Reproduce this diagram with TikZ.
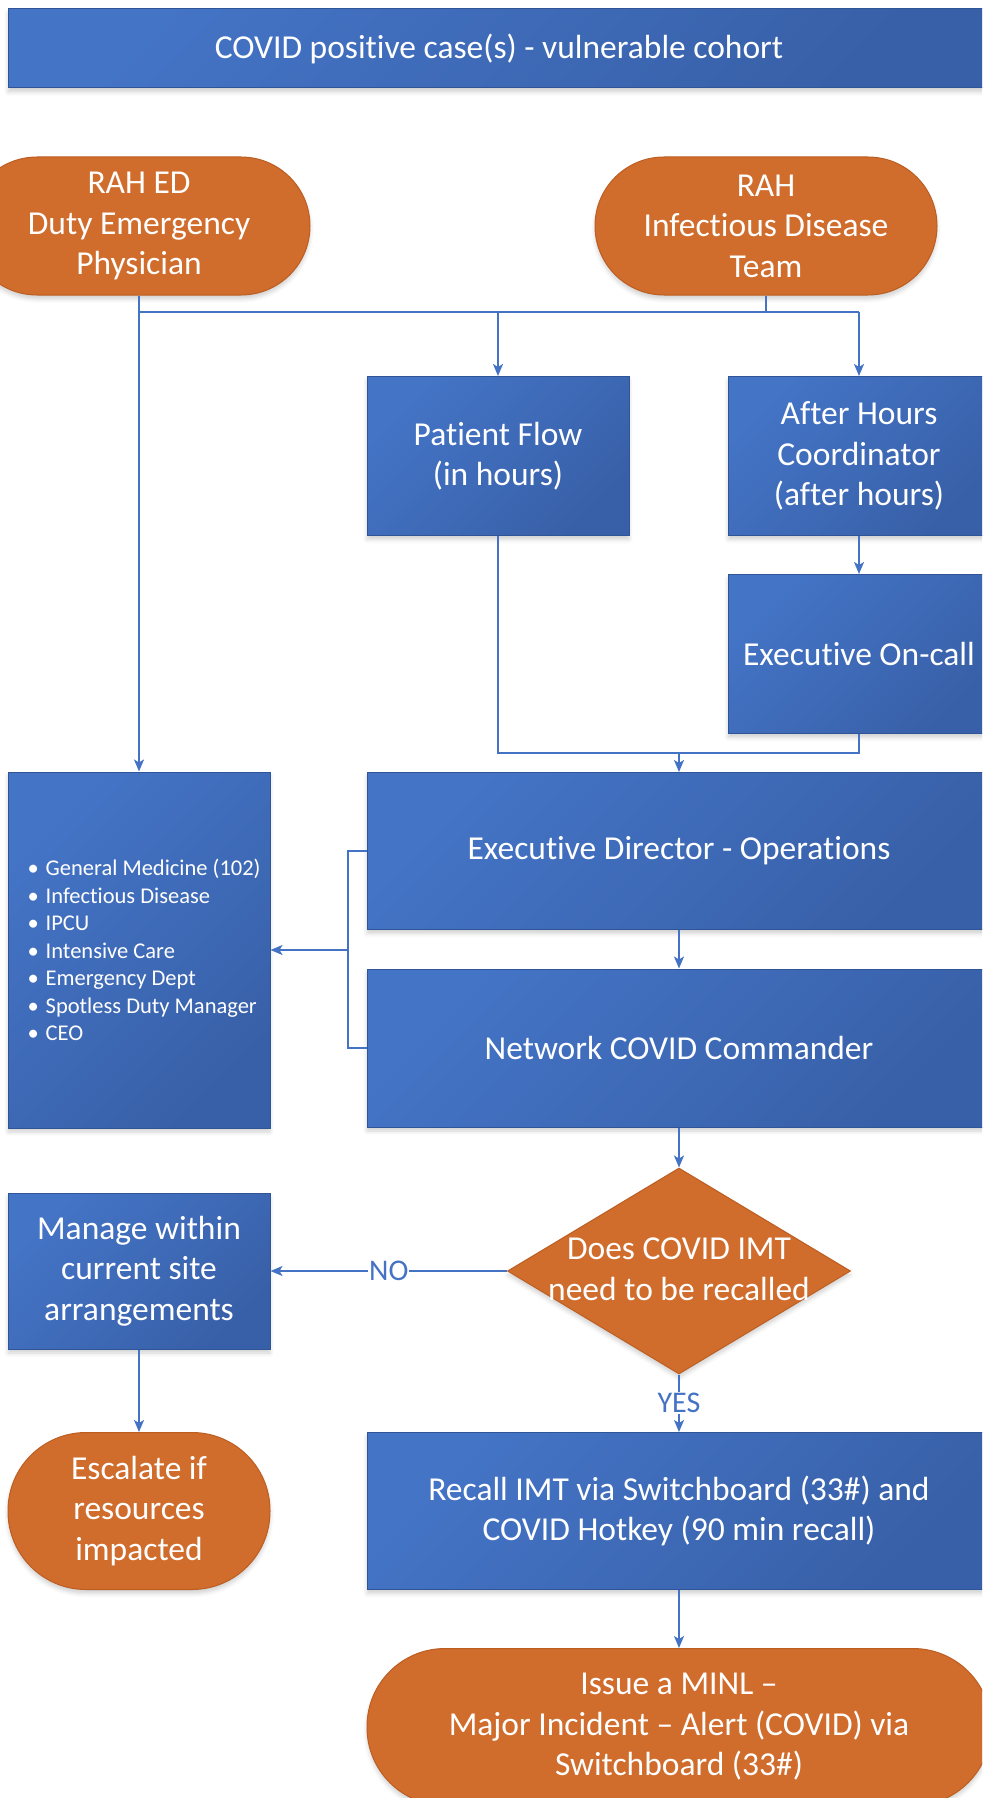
\documentclass[tikz,border=0pt]{standalone}
\usepackage{fontspec}
\setmainfont{Carlito}[Ligatures=NoCommon]
\usetikzlibrary{shapes.geometric,arrows.meta,shadows.blur}
\definecolor{blueL}{RGB}{68,116,198}
\definecolor{blueD}{RGB}{56,96,168}
\definecolor{blueE}{RGB}{47,85,151}
\definecolor{org}{RGB}{208,108,44}
\definecolor{orgE}{RGB}{188,94,34}
\definecolor{conn}{RGB}{68,114,196}
\begin{document}
\begin{tikzpicture}[x=1pt,y=-1pt,
  mainfont/.style={font=\fontsize{33.5}{40.5}\selectfont},
  shad/.style={blur shadow={shadow xshift=0pt,shadow yshift=-4pt,shadow blur radius=4pt,shadow opacity=18}},
  bbox/.style={rectangle,draw=blueE,line width=1pt,top color=blueL,bottom color=blueD,shading angle=45,
    text=white,align=center,mainfont,inner sep=0pt,shad},
  term/.style={rectangle,rounded corners=#1,draw=orgE,line width=1pt,fill=org,
    text=white,align=center,mainfont,inner sep=0pt,shad},
  line/.style={draw=conn,line width=1.8pt},
  arr/.style={line,-{Stealth[length=12pt,width=10pt,inset=3pt]}},
  lbl/.style={fill=white,text=conn,font=\fontsize{30}{36}\selectfont,inner sep=1pt}
]
\path[use as bounding box] (0,0) rectangle (982,1798);
\clip (0,0) rectangle (982,1798);

% title
\node[bbox,minimum width=982pt,minimum height=79pt] (title) at (499,48.5) {COVID positive case(s) - vulnerable cohort};

% sources
\node[term=69pt,minimum width=342pt,minimum height=138pt] (edp) at (139,226) {RAH ED\\Duty Emergency\\Physician};
\node[term=69pt,minimum width=342pt,minimum height=138pt] (idt) at (766,226) {RAH\\Infectious Disease\\Team};

% second row
\node[bbox,minimum width=262pt,minimum height=159pt] (pf) at (498,456) {Patient Flow\\(in hours)};
\node[bbox,minimum width=262pt,minimum height=159pt] (ahc) at (859,456) {After Hours\\Coordinator\\(after hours)};
\node[bbox,minimum width=262pt,minimum height=159pt] (eoc) at (859,654) {Executive On-call};

% middle
\node[bbox,minimum width=624pt,minimum height=157pt] (edo) at (679,851) {Executive Director - Operations};
\node[bbox,minimum width=624pt,minimum height=158pt] (ncc) at (679,1048) {Network COVID Commander};
\node[bbox,minimum width=262pt,minimum height=356pt] (lst) at (139,950) {};
\node[anchor=west,text=white,align=left,inner sep=0pt,font=\fontsize{22.5}{27.5}\selectfont] (lsttxt) at ([xshift=20pt]lst.west)
 {\makebox[18pt][l]{•}General Medicine (102)\\
  \makebox[18pt][l]{•}Infectious Disease\\
  \makebox[18pt][l]{•}IPCU\\
  \makebox[18pt][l]{•}Intensive Care\\
  \makebox[18pt][l]{•}Emergency Dept\\
  \makebox[18pt][l]{•}Spotless Duty Manager\\
  \makebox[18pt][l]{•}CEO};

% decision
\node[diamond,minimum width=343pt,minimum height=206pt,inner sep=0pt,fill=org,draw=orgE,line width=1pt,shad] (dia) at (679,1271) {};
\node[text=white,align=center,mainfont,inner sep=0pt] (diat) at (679,1269) {Does COVID IMT\\need to be recalled};

\node[bbox,minimum width=262pt,minimum height=156pt] (mgr) at (139,1271) {Manage within\\current site\\arrangements};
\node[term=78pt,minimum width=262pt,minimum height=157pt] (esc) at (139,1511) {Escalate if\\resources\\impacted};
\node[bbox,minimum width=624pt,minimum height=157pt] (rec) at (679,1511) {Recall IMT via Switchboard (33\#) and\\COVID Hotkey (90 min recall)};
\node[term=78pt,minimum width=624pt,minimum height=157pt] (iss) at (679,1727) {Issue a MINL –\\Major Incident – Alert (COVID) via\\Switchboard (33\#)};

% connectors
\coordinate (jl) at (139,312);
\coordinate (jm) at (498,753);
\coordinate (brk) at (348,950);
\draw[arr] (edp.south) -- (lst.north);
\draw[line] (idt.south) -- (idt.south |- jl);
\draw[line] (jl) -- (jl -| ahc.north);
\draw[arr] (jl -| pf.north) -- (pf.north);
\draw[arr] (jl -| ahc.north) -- (ahc.north);
\draw[arr] (ahc.south) -- (eoc.north);
\draw[line] (pf.south) -- (jm) -- (jm -| eoc.south) -- (eoc.south);
\draw[arr] (jm -| edo.north) -- (edo.north);
\draw[arr] (edo.south) -- (ncc.north);
\draw[line] (edo.west) -- (edo.west -| brk) -- (ncc.west -| brk) -- (ncc.west);
\draw[arr] (brk) -- (lst.east);
\draw[arr] (ncc.south) -- (dia.north);
\draw[arr] (dia.west) -- node[lbl] {NO} (mgr.east);
\draw[arr] (dia.south) -- node[lbl] {YES} (rec.north);
\draw[arr] (mgr.south) -- (esc.north);
\draw[arr] (rec.south) -- (iss.north);
\end{tikzpicture}
\end{document}
